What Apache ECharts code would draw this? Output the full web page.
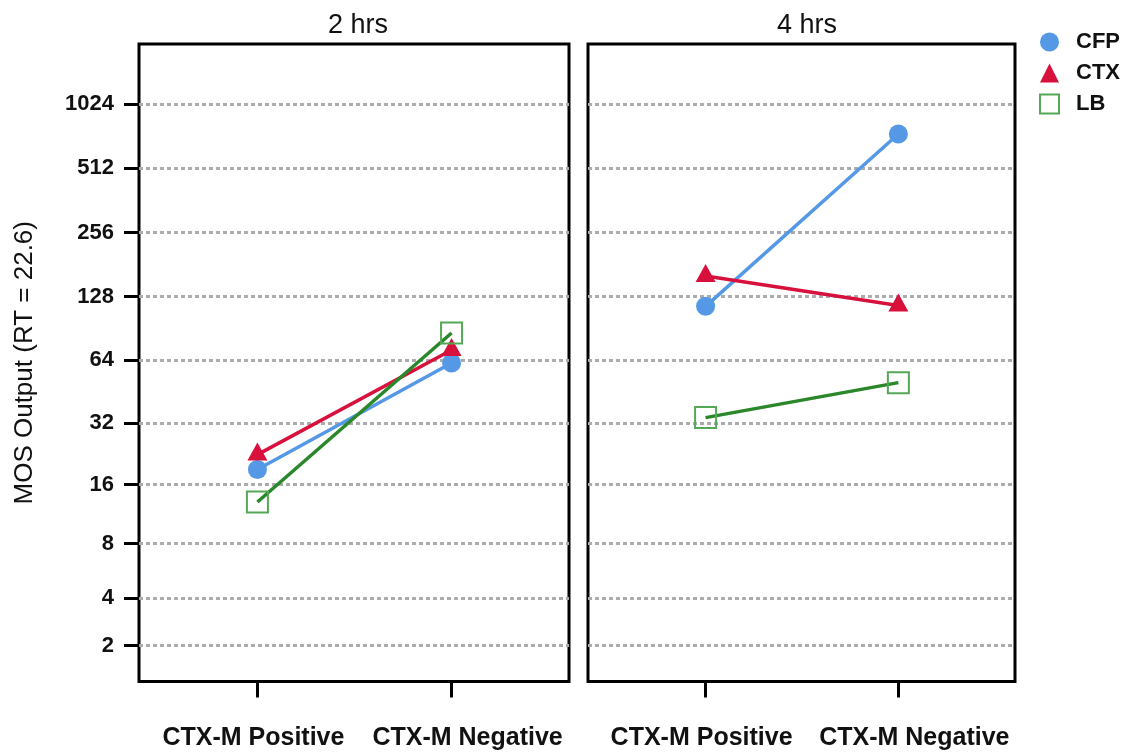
<!DOCTYPE html>
<html>
<head>
<meta charset="utf-8">
<script src="https://cdn.jsdelivr.net/npm/echarts@6/dist/echarts.min.js"></script>
<style>
  html, body { margin: 0; padding: 0; background: #fff; }
  #chart { width: 1134px; height: 755px; }
</style>
</head>
<body>
<div id="chart"></div>
<script>
// Categories, panels and tick labels
const groups = ['CTX-M Positive', 'CTX-M Negative'];
const panels = ['2 hrs', '4 hrs'];
const yTicks = [2, 4, 8, 16, 32, 64, 128, 256, 512, 1024];

// MOS output per panel, [CTX-M Positive, CTX-M Negative]
const cfp2h = [19, 62];
const ctx2h = [22.5, 71.5];
const lb2h  = [13.1, 86];
const cfp4h = [115, 741];
const ctx4h = [160, 116];
const lb4h  = [34, 50];

// Pseudo-log2 scale: position = log2(value + 1)
const tf = v => Math.log2(v + 1);
const tickPos = yTicks.map(tf);
const labelFor = t => {
  let best = yTicks[0], d = Infinity;
  yTicks.forEach(v => { const e = Math.abs(tf(v) - t); if (e < d) { d = e; best = v; } });
  return String(best);
};

const FONT = '"Liberation Sans", Arial, Helvetica, sans-serif';
const BLUE = '#5598E6';
const RED = '#D7103C';
const GREEN = '#2A872A';
const GREEN_LIGHT = '#55A855';

const chart = echarts.init(document.getElementById('chart'));

const gridBase = { top: 44, bottom: 73.5, show: true, borderColor: '#000', borderWidth: 3, backgroundColor: 'transparent', containLabel: false };

const catText = { color: '#111', fontFamily: FONT, fontWeight: 'bold', fontSize: 25 };

function xAxisFor(i) {
  return {
    type: 'value', gridIndex: i, min: -0.61, max: 1.605,
    axisLine: { show: false, onZero: false },
    splitLine: { show: false },
    axisTick: { show: true, customValues: [0, 1], length: 16, lineStyle: { color: '#000', width: 3 } },
    axisLabel: {
      customValues: [0, 1], margin: 44,
      formatter: v => (Math.round(v) === 0 ? '{p|' : '{n|') + groups[Math.round(v)] + '}',
      rich: {
        p: Object.assign({ padding: [0, 8, 0, 0] }, catText),
        n: Object.assign({ padding: [0, 0, 0, 32] }, catText)
      }
    }
  };
}

function yAxisFor(i) {
  const ax = {
    type: 'value', gridIndex: i, min: 1.029, max: 10.934,
    axisLine: { show: false, onZero: false },
    axisTick: { show: i === 0, customValues: tickPos, length: 15, lineStyle: { color: '#000', width: 3 } },
    axisLabel: {
      show: i === 0, customValues: tickPos, margin: 25, formatter: labelFor,
      color: '#111', fontFamily: FONT, fontWeight: 'bold', fontSize: 22
    },
    splitLine: { show: true, lineStyle: { color: '#ababab', width: 3, type: [4, 3] } }
  };
  if (i === 0) {
    ax.name = 'MOS Output (RT = 22.6)';
    ax.nameLocation = 'middle';
    ax.nameGap = 101;
    ax.nameTextStyle = { color: '#111', fontFamily: FONT, fontSize: 26, fontWeight: 'normal' };
  }
  return ax;
}

function pts(arr) { return arr.map((v, k) => [k, tf(v)]); }

function seriesFor(i, cfp, ctx, lb) {
  return [
    {
      name: 'CFP', type: 'line', xAxisIndex: i, yAxisIndex: i, data: pts(cfp),
      symbol: 'circle', symbolSize: 19,
      lineStyle: { color: BLUE, width: 3.5 }, itemStyle: { color: BLUE },
      emphasis: { disabled: true }, animation: false
    },
    {
      name: 'CTX', type: 'line', xAxisIndex: i, yAxisIndex: i, data: pts(ctx),
      symbol: 'triangle', symbolSize: [20, 18], symbolOffset: [0, -3],
      lineStyle: { color: RED, width: 3.5 }, itemStyle: { color: RED },
      emphasis: { disabled: true }, animation: false
    },
    {
      name: 'LB', type: 'line', xAxisIndex: i, yAxisIndex: i, data: pts(lb),
      symbol: 'rect', symbolSize: 21,
      lineStyle: { color: GREEN, width: 3.5 },
      itemStyle: { color: 'rgba(255,255,255,0)', borderColor: GREEN_LIGHT, borderWidth: 2 },
      emphasis: { disabled: true }, animation: false
    }
  ];
}

chart.setOption({
  backgroundColor: '#fff',
  animation: false,
  title: [
    { text: panels[0], left: 353, top: 7, textAlign: 'center',
      textStyle: { fontFamily: FONT, fontSize: 27, fontWeight: 'normal', color: '#111' } },
    { text: panels[1], left: 802, top: 7, textAlign: 'center',
      textStyle: { fontFamily: FONT, fontSize: 27, fontWeight: 'normal', color: '#111' } }
  ],
  legend: {
    orient: 'vertical', left: 1034, top: 26, itemWidth: 19, itemHeight: 19, itemGap: 9,
    textStyle: { fontFamily: FONT, fontSize: 22, fontWeight: 'bold', color: '#111', padding: [0, 0, 0, 12] },
    data: [
      { name: 'CFP', icon: 'circle', itemStyle: { color: BLUE } },
      { name: 'CTX', icon: 'triangle', itemStyle: { color: RED } },
      { name: 'LB', icon: 'rect', itemStyle: { color: '#fff', borderColor: GREEN_LIGHT, borderWidth: 2 } }
    ],
    selectedMode: false
  },
  grid: [
    Object.assign({}, gridBase, { left: 139, width: 430 }),
    Object.assign({}, gridBase, { left: 588, width: 427 })
  ],
  xAxis: [xAxisFor(0), xAxisFor(1)],
  yAxis: [yAxisFor(0), yAxisFor(1)],
  series: [].concat(seriesFor(0, cfp2h, ctx2h, lb2h), seriesFor(1, cfp4h, ctx4h, lb4h))
});
</script>
</body>
</html>
